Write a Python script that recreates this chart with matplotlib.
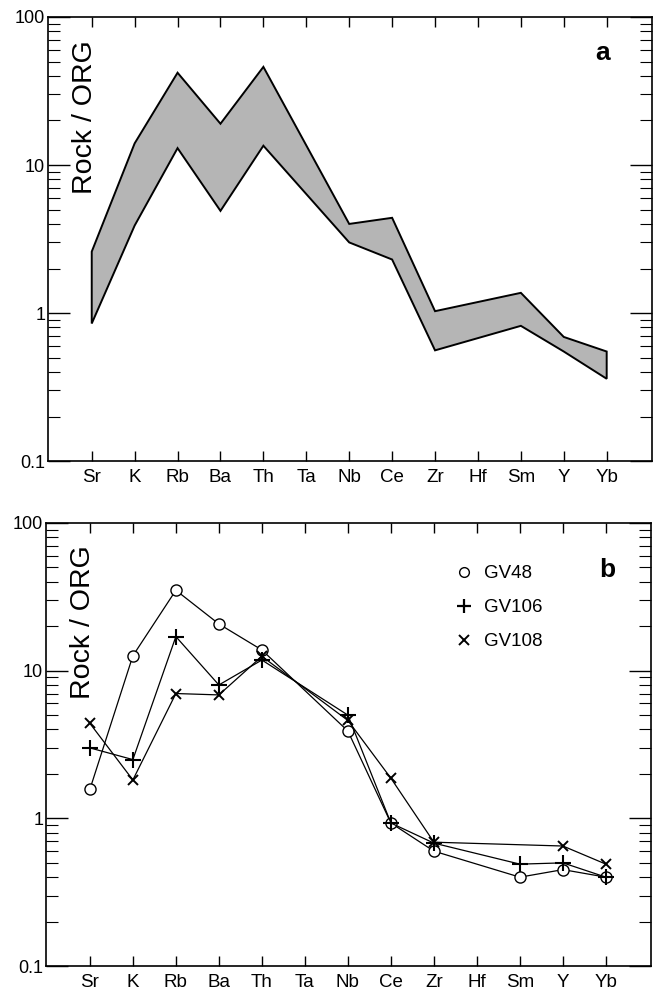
import matplotlib
matplotlib.use('Agg')
import matplotlib.pyplot as plt
from matplotlib.lines import Line2D
from matplotlib.ticker import LogLocator, NullFormatter

plt.rcParams['font.family'] = ['Liberation Sans', 'DejaVu Sans']

elements = ['Sr', 'K', 'Rb', 'Ba', 'Th', 'Ta', 'Nb', 'Ce', 'Zr', 'Hf', 'Sm', 'Y', 'Yb']

# panel a: envelope of the field (None = not plotted)
band_upper = [2.6, 14, 42, 19, 46, None, 4.0, 4.4, 1.03, None, 1.37, 0.69, 0.55]
band_lower = [0.85, 3.9, 13, 4.9, 13.5, None, 3.0, 2.3, 0.56, None, 0.82, 0.55, 0.36]

# panel b: samples
gv48 = [1.57, 12.6, 35, 20.7, 13.8, None, 3.9, 0.93, 0.6, None, 0.40, 0.45, 0.40]
gv106 = [3.0, 2.5, 17, 8.0, 11.8, None, 5.0, 0.93, 0.68, None, 0.49, 0.50, 0.40]
gv108 = [4.4, 1.82, 7.0, 6.85, 12.5, None, 4.6, 1.87, 0.69, None, None, 0.65, 0.49]
sample_names = ['GV48', 'GV106', 'GV108']


def present(vals):
    xs = [i for i, v in enumerate(vals) if v is not None]
    ys = [vals[i] for i in xs]
    return xs, ys


def style_axes(ax):
    ax.set_yscale('log')
    ax.set_ylim(0.1, 100)
    ax.set_xlim(-1.02, 13.05)
    ax.set_xticks(range(len(elements)))
    ax.set_xticklabels(elements, fontsize=13.5)
    ax.set_yticks([0.1, 1, 10, 100])
    ax.set_yticklabels(['0.1', '1', '10', '100'], fontsize=13)
    ax.yaxis.set_minor_locator(LogLocator(base=10, subs=range(2, 10)))
    ax.yaxis.set_minor_formatter(NullFormatter())
    ax.tick_params(which='both', direction='in', top=True, right=True)
    ax.tick_params(axis='x', length=7, width=1, pad=6)
    ax.tick_params(axis='y', which='major', length=16, width=1, pad=2)
    ax.tick_params(axis='y', which='minor', length=8.5, width=0.8)
    for s in ax.spines.values():
        s.set_linewidth(1.2)
    ax.text(0.061, 0.775, 'Rock / ORG', rotation=90, fontsize=20.5,
            ha='center', va='center', transform=ax.transAxes)


fig = plt.figure(figsize=(6.57, 9.96), dpi=100)
ax1 = fig.add_axes([0.073, 0.537, 0.919, 0.446])
ax2 = fig.add_axes([0.070, 0.030, 0.921, 0.445])

# panel a
xu, yu = present(band_upper)
xl, yl = present(band_lower)
ax1.fill(xu + xl[::-1], yu + yl[::-1], facecolor='#b5b5b5',
         edgecolor='black', linewidth=1.4)
style_axes(ax1)
ax1.text(0.919, 0.919, 'a', fontsize=19, fontweight='bold',
         ha='center', va='center', transform=ax1.transAxes)

# panel b
x, y = present(gv48)
ax2.plot(x, y, color='black', lw=0.9, marker='o', ms=8,
         mfc='white', mec='black', mew=1.0)
x, y = present(gv106)
ax2.plot(x, y, color='black', lw=0.9, marker='+', ms=11, mew=1.5)
x, y = present(gv108)
ax2.plot(x, y, color='black', lw=0.9, marker='x', ms=7, mew=1.4)
style_axes(ax2)
ax2.text(0.927, 0.894, 'b', fontsize=19, fontweight='bold',
         ha='center', va='center', transform=ax2.transAxes)

handles = [
    Line2D([], [], ls='none', marker='o', ms=7, mfc='white', mec='black', mew=1.0),
    Line2D([], [], ls='none', marker='+', ms=10, mec='black', mew=1.6),
    Line2D([], [], ls='none', marker='x', ms=6.5, mec='black', mew=1.4),
]
ax2.legend(handles, sample_names, loc='upper left', bbox_to_anchor=(0.675, 0.905),
           frameon=False, borderpad=0, borderaxespad=0, handlelength=1.0,
           handletextpad=0.6, labelspacing=0.9, fontsize=13.5)

fig.savefig('out.png', dpi=100)
